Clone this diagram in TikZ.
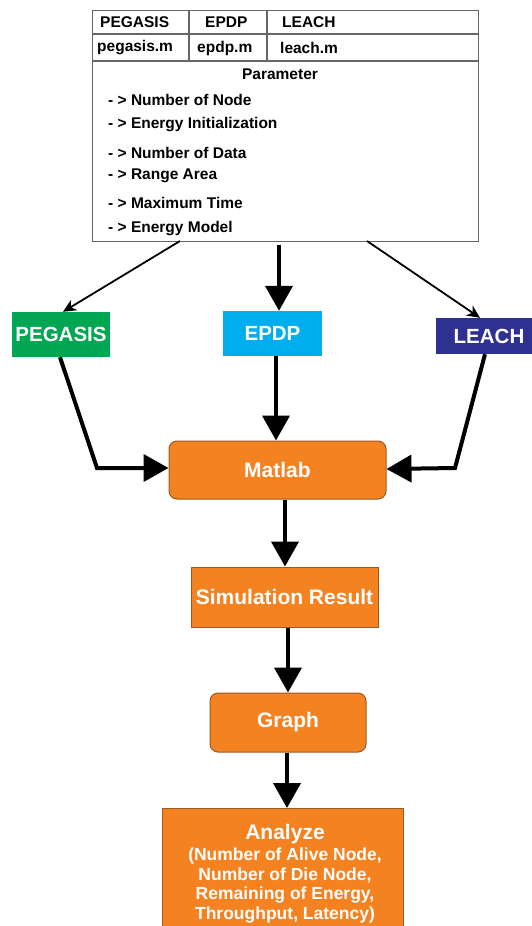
\documentclass[tikz,border=0pt]{standalone}
\usepackage{fontspec}
\setmainfont{Liberation Sans}
\usetikzlibrary{arrows.meta,positioning}
\definecolor{pegasisgreen}{HTML}{00A651}
\definecolor{epdpblue}{HTML}{00AEEF}
\definecolor{leachblue}{HTML}{2E3192}
\definecolor{floworange}{HTML}{F58220}
\definecolor{flowedge}{HTML}{9A5A24}
\tikzset{
  proto/.style={text=white,inner sep=0,minimum height=45,font=\bfseries\fontsize{20.5}{24}\selectfont},
  flow/.style={fill=floworange,draw=flowedge,line width=1,text=white,inner sep=0,
    font=\bfseries\fontsize{21}{24}\selectfont},
  cell/.style={anchor=west,inner sep=0,font=\bfseries\fontsize{15.5}{18}\selectfont},
  bigarrow/.style={line width=4,-{Triangle[length=25,width=27]}},
  thinarrow/.style={line width=1.8,-{Stealth[length=13,width=12,inset=4]}},
}
\begin{document}
\begin{tikzpicture}[x=1pt,y=-1pt]
\useasboundingbox (0,0) rectangle (531,926);
% parameter table
\node[draw=gray!80!black,line width=1.3,minimum width=386,minimum height=231,inner sep=0,anchor=north west] (setup) at (92,10) {};
\draw[gray!80!black,line width=1.3] (92,34) -- (478,34) (92,61) -- (478,61)
  (189,10) -- (189,61) (267,10) -- (267,61);
\node[cell] (hpeg) at (100,22) {PEGASIS};
\node[cell] (hepdp) at (205,22) {EPDP};
\node[cell] (hleach) at (282,22) {LEACH};
\node[cell] (fpeg) at (97,48) {pegasis.m};
\node[cell] (fepdp) at (197,48) {epdp.m};
\node[cell] (fleach) at (280,48) {leach.m};
\node[cell,anchor=center] (partitle) at (280,74) {Parameter};
\foreach \y/\txt [count=\i] in {100/Number of Node,125/Energy Initialization,153/Number of Data,
    176/Range Area,203/Maximum Time,229/Energy Model}
  \node[cell] (par\i) at (108,\y) {- > \txt};
\coordinate (outl) at (180,241);
\coordinate (outc) at (279,245);
\coordinate (outr) at (367,241);

% protocols
\node[proto,fill=pegasisgreen,minimum width=98] (pegasis) at (61,334.5) {PEGASIS};
\node[proto,fill=epdpblue,minimum width=99] (epdp) at (272.5,333.5) {EPDP};
\node[proto,fill=leachblue,minimum width=106,minimum height=36] (leach) at (489,336) {LEACH};

% flow
\node[flow,rounded corners=8,minimum width=217,minimum height=58] (matlab) at (277.5,470) {Matlab};
\node[flow,minimum width=187,minimum height=60] (simres) at (284.5,597) {Simulation Result};
\node[flow,rounded corners=8,minimum width=156,minimum height=59] (graph) at (288,722.5) {Graph};
\node[flow,minimum width=241,minimum height=140,anchor=north] (analyze) at (282.5,808) {};
\node[text=white,font=\bfseries\fontsize{21}{24}\selectfont,inner sep=0] (antitle) at (285,834) {Analyze};
\node[text=white,font=\bfseries\fontsize{17.5}{19.5}\selectfont,align=center,inner sep=0,anchor=north] (anlist) at (285,848)
  {(Number of Alive Node,\\Number of Die Node,\\Remaining of Energy,\\Throughput, Latency)};

% connectors
\draw[thinarrow] (outl) -- (pegasis.north -| 63,0);
\draw[bigarrow] (outc) -- (epdp.north -| 279,0);
\draw[thinarrow] (outr) -- (leach.north -| 480,0);
\draw[bigarrow] (pegasis.south -| 60,0) -- (97,468) -- (matlab.west |- 0,468);
\draw[bigarrow] (epdp.south -| 276,0) -- (matlab.north -| 276,0);
\draw[bigarrow] (leach.south -| 485,0) -- (455,468) -- (matlab.east |- 0,469);
\draw[bigarrow] (matlab.south -| 285,0) -- (simres.north -| 285,0);
\draw[bigarrow] (simres.south -| 288,0) -- (graph.north -| 288,0);
\draw[bigarrow] (graph.south -| 287,0) -- (analyze.north -| 287,0);
\end{tikzpicture}
\end{document}
